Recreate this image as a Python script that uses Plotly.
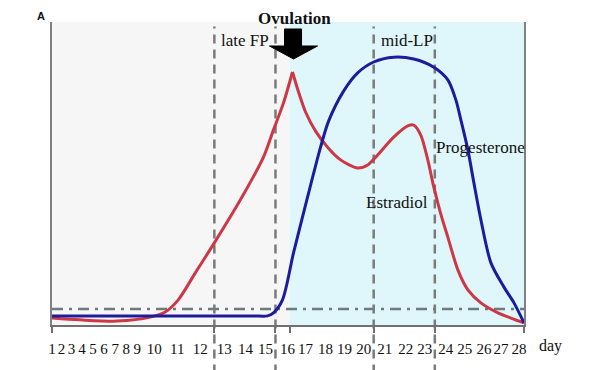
import plotly.graph_objects as go

# x positions are in axis units (0 = day-1 axis edge, 471 = day-28 axis edge)
day_labels = [str(d) for d in range(1, 29)]
day_label_pos = [0, 9.5, 19.5, 30, 41, 52, 63, 74, 85, 102, 125, 148, 172, 193, 213,
                 235, 253, 273, 292, 311, 332, 353, 372, 393, 412, 431, 448, 466]
axis_tick_pos = [0, 162, 223, 237, 321, 382, 471]
phase_lines = [162, 223, 321, 382]       # 12|13, 15|16, 20|21, 23|24
ovulation_pos = 237
baseline_level = 5.3

# relative hormone levels (0-100)
estradiol_x = [0, 28, 65, 98, 113, 126, 143, 162, 188, 211, 221, 231, 240,
               246, 253, 263, 275, 288, 305, 315, 323, 341, 355, 361, 368, 375,
               381, 388, 395, 405, 415, 428, 445, 458, 471]
estradiol_y = [2.3, 1.7, 1.3, 2.6, 4.3, 8.3, 17.2, 27.1, 41.3, 55.4, 64.4, 73.3, 83.5,
               76.9, 70.3, 64.0, 58.7, 54.5, 51.8, 52.8, 55.4, 62.0, 65.7, 66.0, 62.7, 54.5,
               45.5, 36.6, 29.0, 18.2, 11.6, 7.3, 4.0, 2.3, 0.7]
peak_idx = 12

progesterone_x = [0, 100, 200, 215, 221, 230, 241, 255, 268, 276, 291, 305, 321, 341,
                  361, 381, 395, 403, 408, 415, 421, 428, 438, 451, 461, 471]
progesterone_y = [3.0, 3.0, 3.0, 3.0, 4.0, 8.3, 23.8, 42.2, 58.7, 67.3, 77.2, 83.2, 86.8, 88.4,
                  87.8, 85.1, 80.9, 74.3, 67.7, 57.8, 46.9, 34.7, 20.5, 12.5, 7.3, 0.7]

XMAX = 471.0
RED = "#cc3845"
BLUE = "#1c1c9c"
SERIF = "Liberation Serif, Times New Roman, serif"

fig = go.Figure()

# estradiol drawn in two smooth pieces so that the ovulation peak stays sharp
fig.add_trace(go.Scatter(x=estradiol_x[:peak_idx + 1], y=estradiol_y[:peak_idx + 1],
                         mode="lines", line=dict(color=RED, width=3, shape="spline", smoothing=0.8),
                         name="Estradiol", legendgroup="e", hoverinfo="skip"))
fig.add_trace(go.Scatter(x=estradiol_x[peak_idx:], y=estradiol_y[peak_idx:],
                         mode="lines", line=dict(color=RED, width=3, shape="spline", smoothing=0.8),
                         name="Estradiol", legendgroup="e", showlegend=False, hoverinfo="skip"))
fig.add_trace(go.Scatter(x=progesterone_x, y=progesterone_y,
                         mode="lines", line=dict(color=BLUE, width=3, shape="spline", smoothing=0.8),
                         name="Progesterone", hoverinfo="skip"))

shapes = []
# backgrounds
shapes.append(dict(type="rect", xref="x", yref="paper", x0=0, x1=ovulation_pos, y0=0, y1=1,
                   fillcolor="#f6f6f7", line_width=0, layer="below"))
shapes.append(dict(type="rect", xref="x", yref="paper", x0=ovulation_pos, x1=XMAX, y0=0, y1=1,
                   fillcolor="#dff7fa", line_width=0, layer="below"))
# baseline dash-dot
shapes.append(dict(type="line", xref="paper", yref="y", x0=0, x1=1, y0=baseline_level, y1=baseline_level,
                   line=dict(color="#6f7a7e", width=2.5, dash="11px,6px,3px,6px"), layer="below"))
# phase dashed lines (extend below the axis)
for p in phase_lines:
    shapes.append(dict(type="line", xref="paper", yref="paper", x0=p / XMAX, x1=p / XMAX,
                       y0=-0.16, y1=0.985,
                       line=dict(color="#7a7a7a", width=2.5, dash="9px,6px"), layer="below"))


# helper: page-pixel -> paper coordinates (plot area spans px 52..523, py 22..325)
def PX(px):
    return (px - 52) / XMAX


def PY(py):
    return (325 - py) / 303


ax_px = 293
pts = [(ax_px - 9, 29), (ax_px + 8, 29), (ax_px + 8, 46), (ax_px + 24, 46),
       (ax_px, 59), (ax_px - 24, 46), (ax_px - 9, 46)]
arrow = "M " + " L ".join(f"{PX(a):.4f},{PY(b):.4f}" for a, b in pts) + " Z"
shapes.append(dict(type="path", xref="paper", yref="paper", path=arrow,
                   fillcolor="black", line=dict(color="black", width=1)))


def note(text, px, py, size=17, family=SERIF, xanchor="center"):
    return dict(text=text, x=PX(px), y=PY(py), xref="paper", yref="paper",
                xanchor=xanchor, yanchor="middle", showarrow=False,
                font=dict(family=family, size=size, color="#111"))


annotations = [
    note("<b>A</b>", 41, 16, size=11, family="Liberation Sans, Arial"),
    note("<b>Ovulation</b>", 294, 18, size=17),
    note("late FP", 245, 41),
    note("mid-LP", 406, 41),
    note("Progesterone", 433, 147, xanchor="left"),
    note("Estradiol", 396, 202),
    note("day", 549, 346, size=16),
]

# the page body adds an 8px margin, so the figure is 8px smaller and margins shifted
fig.update_layout(
    width=585, height=362, autosize=False,
    margin=dict(l=44, r=69, t=14, b=45),
    paper_bgcolor="white", plot_bgcolor="white",
    showlegend=False,
    shapes=shapes, annotations=annotations,
    xaxis=dict(range=[0, XMAX], showgrid=False, zeroline=False,
               showline=True, linecolor="#707070", linewidth=2,
               tickmode="array", tickvals=day_label_pos, ticktext=day_labels,
               tickangle=0, ticks="", ticklabelstandoff=9,
               tickfont=dict(family=SERIF, size=15, color="#111"),
               minor=dict(tickmode="array", tickvals=axis_tick_pos, ticks="outside",
                          ticklen=6, tickwidth=2, tickcolor="#707070")),
    yaxis=dict(range=[0, 100], showgrid=False, zeroline=False, showticklabels=False,
               ticks="", showline=True, mirror=True, linecolor="#808080", linewidth=2),
)

fig.write_html("out.html")
